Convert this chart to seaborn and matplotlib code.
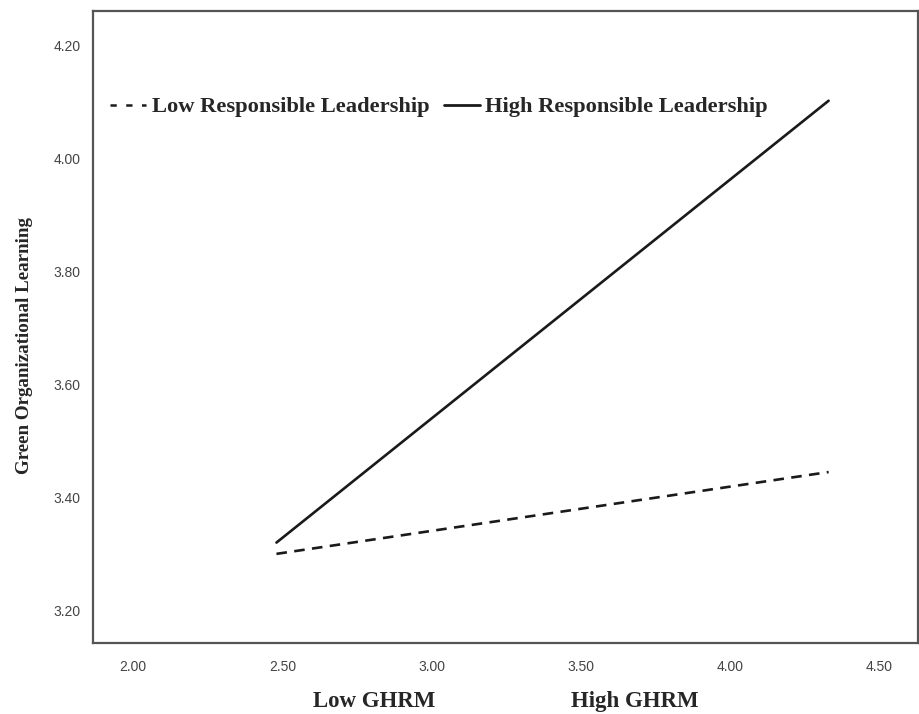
import pandas as pd
import matplotlib.pyplot as plt
import seaborn as sns
from matplotlib.lines import Line2D

# ------------------------------------------------------------
# Datos
# ------------------------------------------------------------
grupos = ["Low Responsible Leadership", "High Responsible Leadership"]
ghrm = [2.48, 4.33]
gol_low = [3.300, 3.445]
gol_high = [3.320, 4.103]

x_ticks = [2.00, 2.50, 3.00, 3.50, 4.00, 4.50]
y_ticks = [3.20, 3.40, 3.60, 3.80, 4.00, 4.20]

df = pd.DataFrame({
    "GHRM": ghrm + ghrm,
    "GOL": gol_low + gol_high,
    "grupo": [grupos[0]] * len(ghrm) + [grupos[1]] * len(ghrm),
})

# ------------------------------------------------------------
# Estilo
# ------------------------------------------------------------
sns.set_style("white")
plt.rcParams["font.family"] = ["Liberation Sans", "DejaVu Sans"]
serif = ["Liberation Serif", "DejaVu Serif"]
color_linea = "#1a1a1a"

fig = plt.figure(figsize=(9.2, 7.14), dpi=100)
ax = fig.add_axes([0.101, 0.0994, 0.897, 0.8852])

sns.lineplot(
    data=df, x="GHRM", y="GOL", style="grupo", style_order=grupos,
    dashes={grupos[0]: (4, 2.8), grupos[1]: ""},
    color=color_linea, linewidth=1.9, ax=ax, legend=False,
)

ax.set_xlim(1.865, 4.63)
ax.set_ylim(3.142, 4.262)
ax.set_xticks(x_ticks)
ax.set_xticklabels([f"{v:.2f}" for v in x_ticks])
ax.set_yticks(y_ticks)
ax.set_yticklabels([f"{v:.2f}" for v in y_ticks])
ax.tick_params(axis="both", length=0, labelsize=10, labelcolor="#444444")
ax.tick_params(axis="x", pad=12)
ax.tick_params(axis="y", pad=9)

for s in ax.spines.values():
    s.set_color("#555555")
    s.set_linewidth(1.6)

ax.set_xlabel("")
ax.set_ylabel("Green Organizational Learning", family=serif,
              fontweight="bold", fontsize=13.7)
ax.yaxis.set_label_coords(-0.0727, 0.47)

# Leyenda
handles = [
    Line2D([], [], color=color_linea, linewidth=1.8, linestyle=(0, (2.5, 3.8))),
    Line2D([], [], color=color_linea, linewidth=2.0, linestyle="-"),
]
leg = ax.legend(
    handles, grupos, loc="center left", bbox_to_anchor=(0.0206, 0.848),
    ncol=2, frameon=False, borderpad=0, borderaxespad=0,
    handlelength=1.6, handletextpad=0.25, columnspacing=0.65,
    prop={"family": serif, "weight": "bold", "size": 16.2},
)

# Etiquetas del eje x
ax.text(0.341, -0.092, "Low GHRM", transform=ax.transAxes, ha="center",
        va="center", family=serif, fontweight="bold", fontsize=16.5)
ax.text(0.657, -0.092, "High GHRM", transform=ax.transAxes, ha="center",
        va="center", family=serif, fontweight="bold", fontsize=16.5)

fig.savefig("out.png", dpi=100)
